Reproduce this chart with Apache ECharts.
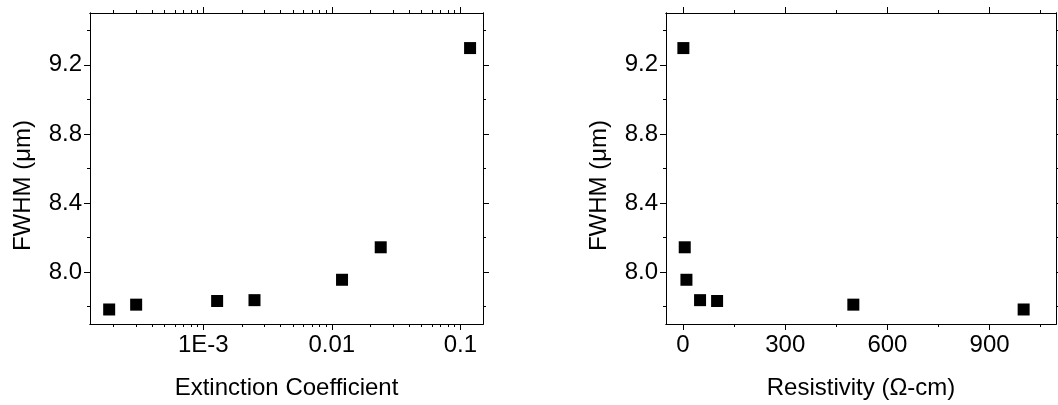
<!DOCTYPE html>
<html>
<head>
<meta charset="utf-8">
<script src="https://cdn.jsdelivr.net/npm/echarts@6/dist/echarts.min.js"></script>
<style>
  html, body { margin: 0; padding: 0; background: #fff; }
  #chart { width: 1058px; height: 405px; }
</style>
</head>
<body>
<div id="chart"></div>
<script>
// values
var extinction = [1.85e-4, 3.0e-4, 1.28e-3, 2.5e-3, 0.012, 0.024, 0.119];
var resistivity = [1000, 500, 100, 50, 10, 5, 1];
var fwhm = [7.784, 7.812, 7.833, 7.838, 7.956, 8.144, 9.297];

// tick values
var yMajor = [8.0, 8.4, 8.8, 9.2];
var yMinor = [7.8, 8.2, 8.6, 9.0, 9.4];
var extMajor = [0.001, 0.01, 0.1];
var extMinor = [2e-4, 3e-4, 4e-4, 5e-4, 6e-4, 7e-4, 8e-4, 9e-4,
                2e-3, 3e-3, 4e-3, 5e-3, 6e-3, 7e-3, 8e-3, 9e-3,
                0.02, 0.03, 0.04, 0.05, 0.06, 0.07, 0.08, 0.09];
var resMajor = [0, 300, 600, 900];
var resMinor = [150, 450, 750, 1050];

var font = "'Liberation Sans', Arial, sans-serif";

// one axis that only draws a line and a set of ticks
function tickAxis(grid, type, min, max, position, values, len, extra) {
  var ax = {
    gridIndex: grid,
    type: type,
    min: min,
    max: max,
    position: position,
    axisLine: { show: true, onZero: false, lineStyle: { color: '#000', width: 1 } },
    axisTick: {
      show: true, inside: false, length: len, customValues: values,
      lineStyle: { color: '#000', width: 1 }
    },
    axisLabel: { show: false },
    splitLine: { show: false },
    minorTick: { show: false }
  };
  if (type === 'log') ax.logBase = 10;
  return Object.assign(ax, extra || {});
}

function labelStyle(values, margin, formatter) {
  return {
    show: true, customValues: values, margin: margin, formatter: formatter,
    color: '#000', fontSize: 24, fontFamily: font
  };
}

function nameStyle(padding) {
  return { color: '#000', fontSize: 24, fontFamily: font, padding: padding || 0 };
}

function extFormat(v) {
  var e = Math.round(Math.log10(v));
  if (e === -3) return '1E-3';
  if (e === -2) return '0.01';
  if (e === -1) return '0.1';
  return String(v);
}

var yMin = 7.7, yMax = 9.5;
var extMin = 1.312e-4, extMax = 0.150;
var resMin = -50, resMax = 1095;

function yAxes(grid) {
  return [
    tickAxis(grid, 'value', yMin, yMax, 'left', yMajor, 6, {
      axisLabel: labelStyle(yMajor, 8, function (v) { return v.toFixed(1); }),
      name: 'FWHM (\u03bcm)',
      nameLocation: 'middle',
      nameGap: 55,
      // the title sits a bit below the middle of the axis
      nameTextStyle: nameStyle([0, 34, 0, 0])
    }),
    tickAxis(grid, 'value', yMin, yMax, 'left', yMinor, 3),
    tickAxis(grid, 'value', yMin, yMax, 'right', yMajor, 6),
    tickAxis(grid, 'value', yMin, yMax, 'right', yMinor, 3)
  ];
}

var xAxis = [
  tickAxis(0, 'log', extMin, extMax, 'bottom', extMajor, 6, {
    axisLabel: labelStyle(extMajor, 9, extFormat),
    name: 'Extinction Coefficient',
    nameLocation: 'middle',
    nameGap: 52,
    nameTextStyle: nameStyle()
  }),
  tickAxis(0, 'log', extMin, extMax, 'bottom', extMinor, 3),
  tickAxis(0, 'log', extMin, extMax, 'top', extMajor, 6),
  tickAxis(0, 'log', extMin, extMax, 'top', extMinor, 3),

  tickAxis(1, 'value', resMin, resMax, 'bottom', resMajor, 6, {
    axisLabel: labelStyle(resMajor, 9, function (v) { return String(v); }),
    name: 'Resistivity (\u03a9-cm)',
    nameLocation: 'middle',
    nameGap: 52,
    nameTextStyle: nameStyle()
  }),
  tickAxis(1, 'value', resMin, resMax, 'bottom', resMinor, 3),
  tickAxis(1, 'value', resMin, resMax, 'top', resMajor, 6),
  tickAxis(1, 'value', resMin, resMax, 'top', resMinor, 3)
];

var yAxis = yAxes(0).concat(yAxes(1));

var extData = extinction.map(function (x, i) { return [x, fwhm[i]]; });
var resData = resistivity.map(function (x, i) { return [x, fwhm[i]]; });

var myChart = echarts.init(document.getElementById('chart'));
var option = {
  animation: false,
  backgroundColor: '#fff',
  grid: [
    { left: 90, top: 13, width: 393, height: 316, containLabel: false },
    { left: 666, top: 13, width: 390, height: 316, containLabel: false }
  ],
  xAxis: xAxis,
  yAxis: yAxis,
  series: [
    {
      type: 'scatter',
      xAxisIndex: 0,
      yAxisIndex: 0,
      symbol: 'rect',
      symbolSize: 12,
      itemStyle: { color: '#000', opacity: 1 },
      data: extData
    },
    {
      type: 'scatter',
      xAxisIndex: 4,
      yAxisIndex: 4,
      symbol: 'rect',
      symbolSize: 12,
      itemStyle: { color: '#000', opacity: 1 },
      data: resData
    }
  ]
};
myChart.setOption(option);
</script>
</body>
</html>
